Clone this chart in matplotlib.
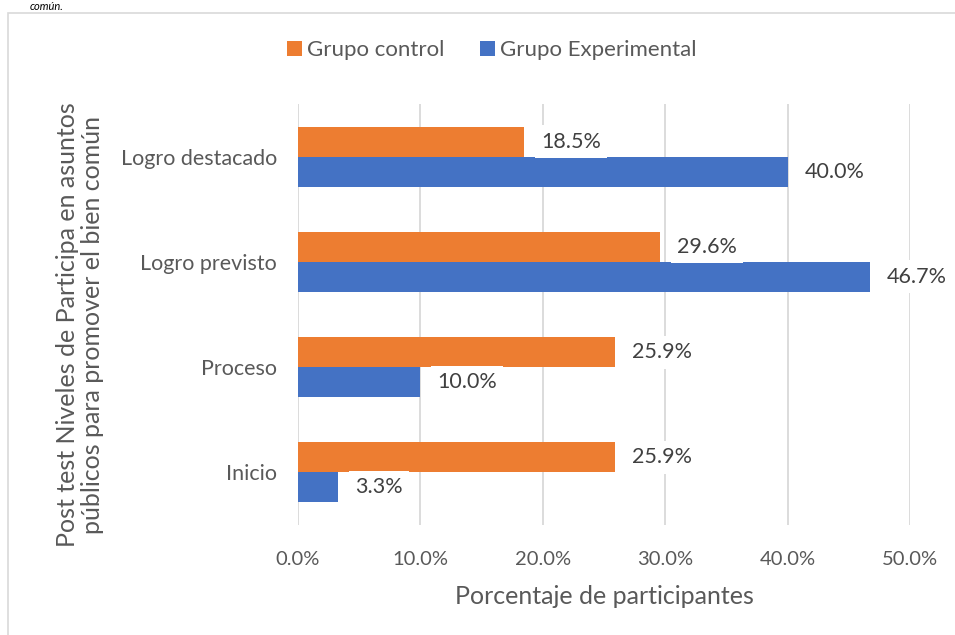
import matplotlib
matplotlib.use("Agg")
import matplotlib.pyplot as plt
import numpy as np
from matplotlib.patches import Rectangle

plt.rcParams['font.family'] = ['Lato', 'DejaVu Sans']

categories = ["Inicio", "Proceso", "Logro previsto", "Logro destacado"]
control = [25.9, 25.9, 29.6, 18.5]
experimental = [3.3, 10.0, 46.7, 40.0]
series_names = ["Grupo control", "Grupo Experimental"]
xticks = [0, 10, 20, 30, 40, 50]

ORANGE = "#ED7D31"
BLUE = "#4472C4"
TXT = "#595959"

fig = plt.figure(figsize=(9.55, 6.35), dpi=100)
ax = fig.add_axes([298/955, 1-525/635, (910-298)/955, 421/635])

y = np.arange(len(categories))
h = 0.286
b1 = ax.barh(y + h/2, control, height=h, color=ORANGE, label=series_names[0], zorder=2)
b2 = ax.barh(y - h/2, experimental, height=h, color=BLUE, label=series_names[1], zorder=2)

# etiquetas de datos con fondo blanco
for bars, vals in [(b1, control), (b2, experimental)]:
    for r, v in zip(bars, vals):
        ax.annotate(f"{v:.1f}%", (v, r.get_y() + r.get_height()/2),
                    xytext=(12, 0), textcoords="offset points", ha="left", va="center",
                    fontsize=15.5, color="#404040", zorder=3,
                    bbox=dict(boxstyle="square,pad=0.3", fc="white", ec="none"))

ax.set_xlim(0, 50)
ax.set_ylim(-0.5, len(categories) - 0.5)
ax.set_xticks(xticks)
ax.set_xticklabels([f"{t:.1f}%" for t in xticks])
ax.set_yticks(y)
ax.set_yticklabels(categories)
ax.tick_params(axis="both", length=0, labelsize=15.5, labelcolor=TXT)
ax.tick_params(axis="x", labelsize=14.5, pad=19)
ax.tick_params(axis="y", pad=15)
ax.grid(axis="x", color="#D9D9D9", linewidth=1.3, zorder=0)
for s in ax.spines.values():
    s.set_visible(False)

ax.set_xlabel("Porcentaje de participantes", fontsize=18, color=TXT, labelpad=12)
fig.text(80/955, 1-325/635,
         "Post test Niveles de Participa en asuntos\npúblicos para promover el bien común",
         rotation=90, ha="center", va="center", fontsize=18, color=TXT, linespacing=1.15)

ax.legend(loc="center", bbox_to_anchor=(492/955, 1-50/635), bbox_transform=fig.transFigure,
          ncol=2, frameon=False, fontsize=16, labelcolor=TXT, handlelength=0.65,
          handleheight=0.65, columnspacing=1.6, handletextpad=0.25)

fig.patches.append(Rectangle((8/955, -0.1), 1.1, 1 - 13/635 + 0.1, transform=fig.transFigure,
                             fill=False, ec="#D9D9D9", lw=1.2))
fig.text(30/955, 1.0 - 1/635, "común.", style="italic", fontsize=8, color="black",
         ha="left", va="top")

fig.savefig("out.png", dpi=100)
